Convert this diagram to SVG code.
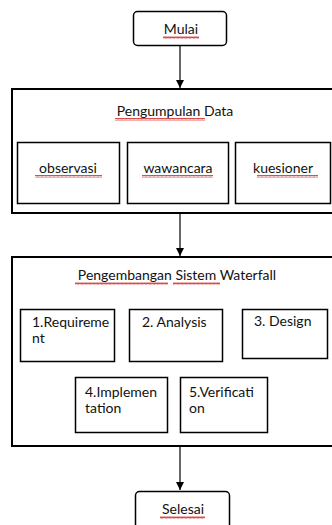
<svg xmlns="http://www.w3.org/2000/svg" width="332" height="525" viewBox="0 0 332 525">
  <style>
    .box { fill: #fff; stroke: #000; stroke-width: 1.5; }
    .frame { fill: #fff; stroke: #000; stroke-width: 2; }
    .lbl { font-family: Lato, "Liberation Sans", sans-serif; font-size: 14px; fill: #111; }
    .mid { text-anchor: middle; }
    .edge { stroke: #000; stroke-width: 1.2; fill: none; marker-end: url(#arrow); }
    .wave { fill: url(#squiggle); }
  </style>
  <defs>
    <marker id="arrow" viewBox="0 0 10 10" refX="10" refY="5" markerWidth="8" markerHeight="8" markerUnits="userSpaceOnUse" orient="auto">
      <path d="M0,0 L10,5 L0,10 Z" fill="#000"/>
    </marker>
    <!-- spell-check style wavy underline -->
    <pattern id="squiggle" width="4" height="3" patternUnits="userSpaceOnUse">
      <path d="M0,2.5 L1,0.5 L2,2.5 L3,0.5 L4,2.5" fill="none" stroke="#d02020" stroke-width="0.8"/>
    </pattern>
  </defs>

  <g id="connectors">
    <line class="edge" x1="180" y1="46" x2="180" y2="88"/>
    <line class="edge" x1="180" y1="213" x2="180" y2="256"/>
    <line class="edge" x1="180" y1="446" x2="180" y2="490"/>
  </g>

  <g id="mulai">
    <rect class="box" x="133.5" y="11.5" width="93" height="34" rx="4"/>
    <text class="lbl mid" x="181" y="34">Mulai</text>
    <rect class="wave" x="163" y="36" width="36" height="3"/>
  </g>

  <g id="pengumpulan-data">
    <rect class="frame" x="12" y="89" width="330" height="124"/>
    <text class="lbl mid" x="175" y="116">Pengumpulan Data</text>
    <rect class="wave" x="115" y="118" width="90" height="3"/>
  </g>

  <g id="observasi">
    <rect class="box" x="17.5" y="142.5" width="102" height="61"/>
    <text class="lbl mid" x="68" y="173">observasi</text>
    <rect class="wave" x="35" y="175" width="67" height="3"/>
  </g>

  <g id="wawancara">
    <rect class="box" x="127.5" y="142.5" width="101" height="61"/>
    <text class="lbl mid" x="178" y="173">wawancara</text>
    <rect class="wave" x="142" y="175" width="71" height="3"/>
  </g>

  <g id="kuesioner">
    <rect class="box" x="235.5" y="142.5" width="95" height="61"/>
    <text class="lbl mid" x="283" y="173">kuesioner</text>
    <rect class="wave" x="257" y="175" width="61" height="3"/>
  </g>

  <g id="pengembangan-sistem">
    <rect class="frame" x="12" y="257" width="330" height="189"/>
    <text class="lbl mid" x="177" y="280">Pengembangan Sistem Waterfall</text>
    <rect class="wave" x="75" y="282" width="93" height="3"/>
    <rect class="wave" x="173" y="282" width="47" height="3"/>
  </g>

  <g id="requirement">
    <rect class="box" x="20.5" y="309.5" width="94" height="52"/>
    <text class="lbl" x="32" y="327">1.Requireme</text>
    <text class="lbl" x="32" y="343">nt</text>
  </g>

  <g id="analysis">
    <rect class="box" x="129.5" y="309.5" width="93" height="52"/>
    <text class="lbl" x="142" y="327">2. Analysis</text>
  </g>

  <g id="design">
    <rect class="box" x="242.5" y="309.5" width="85" height="49"/>
    <text class="lbl" x="254" y="326">3. Design</text>
  </g>

  <g id="implementation">
    <rect class="box" x="75.5" y="377.5" width="92" height="55"/>
    <text class="lbl" x="85" y="397">4.Implemen</text>
    <text class="lbl" x="85" y="413">tation</text>
  </g>

  <g id="verification">
    <rect class="box" x="180.5" y="377.5" width="87" height="55"/>
    <text class="lbl" x="189" y="397">5.Verificati</text>
    <text class="lbl" x="189" y="413">on</text>
  </g>

  <g id="selesai">
    <rect class="box" x="135.5" y="491.5" width="94" height="40" rx="4"/>
    <text class="lbl mid" x="183" y="514">Selesai</text>
    <rect class="wave" x="160" y="516" width="45" height="3"/>
  </g>
</svg>
